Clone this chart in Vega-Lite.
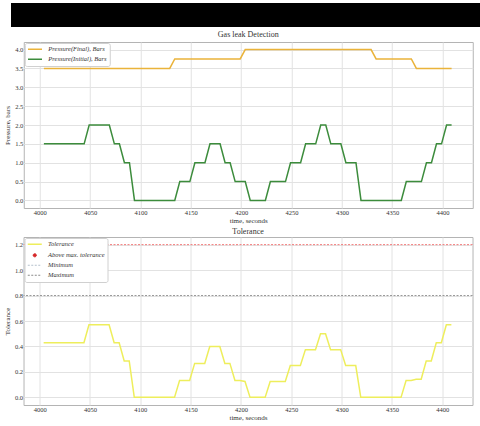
{
  "$schema": "https://vega.github.io/schema/vega-lite/v6.json",
  "description": "Gas leak detection: pressure and tolerance over time",
  "background": "white",
  "padding": {"left": 3, "top": 3, "right": 2, "bottom": 1},
  "spacing": 3,
  "center": true,
  "resolve": {"scale": {"color": "independent"}, "legend": {"color": "independent"}},
  "datasets": {
    "pressure": [
      {"t": 4004, "series": "Pressure(Final), Bars", "value": 3.5},
      {"t": 4129, "series": "Pressure(Final), Bars", "value": 3.5},
      {"t": 4134, "series": "Pressure(Final), Bars", "value": 3.75},
      {"t": 4199, "series": "Pressure(Final), Bars", "value": 3.75},
      {"t": 4204, "series": "Pressure(Final), Bars", "value": 4.0},
      {"t": 4329, "series": "Pressure(Final), Bars", "value": 4.0},
      {"t": 4334, "series": "Pressure(Final), Bars", "value": 3.75},
      {"t": 4369, "series": "Pressure(Final), Bars", "value": 3.75},
      {"t": 4374, "series": "Pressure(Final), Bars", "value": 3.5},
      {"t": 4409, "series": "Pressure(Final), Bars", "value": 3.5},
      {"t": 4004, "series": "Pressure(Initial), Bars", "value": 1.5},
      {"t": 4044, "series": "Pressure(Initial), Bars", "value": 1.5},
      {"t": 4049, "series": "Pressure(Initial), Bars", "value": 2.0},
      {"t": 4069, "series": "Pressure(Initial), Bars", "value": 2.0},
      {"t": 4074, "series": "Pressure(Initial), Bars", "value": 1.5},
      {"t": 4079, "series": "Pressure(Initial), Bars", "value": 1.5},
      {"t": 4084, "series": "Pressure(Initial), Bars", "value": 1.0},
      {"t": 4089, "series": "Pressure(Initial), Bars", "value": 1.0},
      {"t": 4094, "series": "Pressure(Initial), Bars", "value": 0.0},
      {"t": 4134, "series": "Pressure(Initial), Bars", "value": 0.0},
      {"t": 4139, "series": "Pressure(Initial), Bars", "value": 0.5},
      {"t": 4149, "series": "Pressure(Initial), Bars", "value": 0.5},
      {"t": 4154, "series": "Pressure(Initial), Bars", "value": 1.0},
      {"t": 4164, "series": "Pressure(Initial), Bars", "value": 1.0},
      {"t": 4169, "series": "Pressure(Initial), Bars", "value": 1.5},
      {"t": 4179, "series": "Pressure(Initial), Bars", "value": 1.5},
      {"t": 4184, "series": "Pressure(Initial), Bars", "value": 1.0},
      {"t": 4189, "series": "Pressure(Initial), Bars", "value": 1.0},
      {"t": 4194, "series": "Pressure(Initial), Bars", "value": 0.5},
      {"t": 4204, "series": "Pressure(Initial), Bars", "value": 0.5},
      {"t": 4209, "series": "Pressure(Initial), Bars", "value": 0.0},
      {"t": 4224, "series": "Pressure(Initial), Bars", "value": 0.0},
      {"t": 4229, "series": "Pressure(Initial), Bars", "value": 0.5},
      {"t": 4244, "series": "Pressure(Initial), Bars", "value": 0.5},
      {"t": 4249, "series": "Pressure(Initial), Bars", "value": 1.0},
      {"t": 4259, "series": "Pressure(Initial), Bars", "value": 1.0},
      {"t": 4264, "series": "Pressure(Initial), Bars", "value": 1.5},
      {"t": 4274, "series": "Pressure(Initial), Bars", "value": 1.5},
      {"t": 4279, "series": "Pressure(Initial), Bars", "value": 2.0},
      {"t": 4284, "series": "Pressure(Initial), Bars", "value": 2.0},
      {"t": 4289, "series": "Pressure(Initial), Bars", "value": 1.5},
      {"t": 4299, "series": "Pressure(Initial), Bars", "value": 1.5},
      {"t": 4304, "series": "Pressure(Initial), Bars", "value": 1.0},
      {"t": 4314, "series": "Pressure(Initial), Bars", "value": 1.0},
      {"t": 4319, "series": "Pressure(Initial), Bars", "value": 0.0},
      {"t": 4359, "series": "Pressure(Initial), Bars", "value": 0.0},
      {"t": 4364, "series": "Pressure(Initial), Bars", "value": 0.5},
      {"t": 4379, "series": "Pressure(Initial), Bars", "value": 0.5},
      {"t": 4384, "series": "Pressure(Initial), Bars", "value": 1.0},
      {"t": 4389, "series": "Pressure(Initial), Bars", "value": 1.0},
      {"t": 4394, "series": "Pressure(Initial), Bars", "value": 1.5},
      {"t": 4399, "series": "Pressure(Initial), Bars", "value": 1.5},
      {"t": 4404, "series": "Pressure(Initial), Bars", "value": 2.0},
      {"t": 4409, "series": "Pressure(Initial), Bars", "value": 2.0}
    ],
    "tolerance": [
      {"t": 4004, "series": "Tolerance", "value": 0.429},
      {"t": 4044, "series": "Tolerance", "value": 0.429},
      {"t": 4049, "series": "Tolerance", "value": 0.571},
      {"t": 4069, "series": "Tolerance", "value": 0.571},
      {"t": 4074, "series": "Tolerance", "value": 0.429},
      {"t": 4079, "series": "Tolerance", "value": 0.429},
      {"t": 4084, "series": "Tolerance", "value": 0.286},
      {"t": 4089, "series": "Tolerance", "value": 0.286},
      {"t": 4094, "series": "Tolerance", "value": 0.0},
      {"t": 4134, "series": "Tolerance", "value": 0.0},
      {"t": 4139, "series": "Tolerance", "value": 0.133},
      {"t": 4149, "series": "Tolerance", "value": 0.133},
      {"t": 4154, "series": "Tolerance", "value": 0.267},
      {"t": 4164, "series": "Tolerance", "value": 0.267},
      {"t": 4169, "series": "Tolerance", "value": 0.4},
      {"t": 4179, "series": "Tolerance", "value": 0.4},
      {"t": 4184, "series": "Tolerance", "value": 0.267},
      {"t": 4189, "series": "Tolerance", "value": 0.267},
      {"t": 4194, "series": "Tolerance", "value": 0.133},
      {"t": 4199, "series": "Tolerance", "value": 0.133},
      {"t": 4204, "series": "Tolerance", "value": 0.125},
      {"t": 4209, "series": "Tolerance", "value": 0.0},
      {"t": 4224, "series": "Tolerance", "value": 0.0},
      {"t": 4229, "series": "Tolerance", "value": 0.125},
      {"t": 4244, "series": "Tolerance", "value": 0.125},
      {"t": 4249, "series": "Tolerance", "value": 0.25},
      {"t": 4259, "series": "Tolerance", "value": 0.25},
      {"t": 4264, "series": "Tolerance", "value": 0.375},
      {"t": 4274, "series": "Tolerance", "value": 0.375},
      {"t": 4279, "series": "Tolerance", "value": 0.5},
      {"t": 4284, "series": "Tolerance", "value": 0.5},
      {"t": 4289, "series": "Tolerance", "value": 0.375},
      {"t": 4299, "series": "Tolerance", "value": 0.375},
      {"t": 4304, "series": "Tolerance", "value": 0.25},
      {"t": 4314, "series": "Tolerance", "value": 0.25},
      {"t": 4319, "series": "Tolerance", "value": 0.0},
      {"t": 4359, "series": "Tolerance", "value": 0.0},
      {"t": 4364, "series": "Tolerance", "value": 0.133},
      {"t": 4369, "series": "Tolerance", "value": 0.133},
      {"t": 4374, "series": "Tolerance", "value": 0.143},
      {"t": 4379, "series": "Tolerance", "value": 0.143},
      {"t": 4384, "series": "Tolerance", "value": 0.286},
      {"t": 4389, "series": "Tolerance", "value": 0.286},
      {"t": 4394, "series": "Tolerance", "value": 0.429},
      {"t": 4399, "series": "Tolerance", "value": 0.429},
      {"t": 4404, "series": "Tolerance", "value": 0.571},
      {"t": 4409, "series": "Tolerance", "value": 0.571}
    ],
    "limits": [
      {"name": "Maximum", "level": 1.2},
      {"name": "Minimum", "level": 0.8}
    ]
  },
  "vconcat": [
    {
      "width": 475,
      "height": 24,
      "data": {"values": [{}]},
      "view": {"fill": "#000000", "stroke": null},
      "mark": {"type": "text", "text": ""},
      "encoding": {}
    },
    {
      "width": 449,
      "height": 166,
      "title": {"text": "Gas leak Detection", "offset": 3},
      "data": {"name": "pressure"},
      "mark": {"type": "line", "strokeWidth": 1.5},
      "encoding": {
        "x": {
          "field": "t",
          "type": "quantitative",
          "title": "time, seconds",
          "scale": {"domain": [3984, 4430], "nice": false, "zero": false},
          "axis": {"values": [4000, 4050, 4100, 4150, 4200, 4250, 4300, 4350, 4400], "format": "d"}
        },
        "y": {
          "field": "value",
          "type": "quantitative",
          "title": "Pressure, bars",
          "scale": {"domain": [-0.2, 4.2], "nice": false, "zero": false},
          "axis": {"values": [0, 0.5, 1, 1.5, 2, 2.5, 3, 3.5, 4], "format": ".1f", "minExtent": 12, "maxExtent": 12}
        },
        "color": {
          "field": "series",
          "type": "nominal",
          "scale": {
            "domain": ["Pressure(Final), Bars", "Pressure(Initial), Bars"],
            "range": ["#eab33a", "#3c8c3c"]
          },
          "legend": {
            "title": null,
            "symbolType": "stroke",
            "encode": {
              "symbols": {
                "update": {
                  "shape": {"signal": "datum.value ? 'stroke' : 'stroke'"},
                  "size": {"signal": "datum.value ? 196 : 196"},
                  "strokeWidth": {"signal": "datum.value ? 1.5 : 1.5"}
                }
              }
            }
          }
        }
      }
    },
    {
      "width": 449,
      "height": 168,
      "title": {"text": "Tolerance", "offset": 1},
      "layer": [
        {
          "data": {"name": "tolerance"},
          "mark": {"type": "line", "strokeWidth": 1.5},
          "encoding": {
            "x": {
              "field": "t",
              "type": "quantitative",
              "title": "time, seconds",
              "scale": {"domain": [3984, 4430], "nice": false, "zero": false},
              "axis": {"values": [4000, 4050, 4100, 4150, 4200, 4250, 4300, 4350, 4400], "format": "d"}
            },
            "y": {
              "field": "value",
              "type": "quantitative",
              "title": "Tolerance",
              "scale": {"domain": [-0.06, 1.26], "nice": false, "zero": false},
              "axis": {"values": [0, 0.2, 0.4, 0.6, 0.8, 1.0, 1.2], "format": ".1f", "minExtent": 12, "maxExtent": 12}
            },
            "color": {
              "field": "series",
              "type": "nominal",
              "scale": {
                "domain": ["Tolerance", "Above max. tolerance", "Minimum", "Maximum"],
                "range": ["#eeee5c", "#d62728", "#b4c0cc", "#8a8a8a"]
              },
              "legend": {
                "title": null,
                "symbolType": "stroke",
                "encode": {
                  "symbols": {
                    "update": {
                      "shape": {"signal": "datum.value === 'Above max. tolerance' ? 'circle' : 'stroke'"},
                      "fill": {"signal": "datum.value === 'Above max. tolerance' ? '#d62728' : 'transparent'"},
                      "size": {"signal": "datum.value === 'Above max. tolerance' ? 10 : 196"},
                      "strokeDash": {"signal": "datum.value === 'Minimum' || datum.value === 'Maximum' ? [2, 1.5] : [1, 0]"},
                      "strokeWidth": {"signal": "datum.value === 'Tolerance' ? 1.5 : 1"}
                    }
                  }
                }
              }
            }
          }
        },
        {
          "data": {"name": "limits"},
          "transform": [{"filter": "datum.name === 'Maximum'"}],
          "mark": {"type": "rule", "color": "#f06a6a", "strokeWidth": 0.9, "strokeDash": [2, 1.5]},
          "encoding": {
            "y": {
              "field": "level",
              "type": "quantitative",
              "title": "Tolerance",
              "axis": {"values": [0, 0.2, 0.4, 0.6, 0.8, 1.0, 1.2], "format": ".1f", "minExtent": 12, "maxExtent": 12}
            }
          }
        },
        {
          "data": {"name": "limits"},
          "transform": [{"filter": "datum.name === 'Minimum'"}],
          "mark": {"type": "rule", "color": "#8a8a8a", "strokeWidth": 0.9, "strokeDash": [2, 1.5]},
          "encoding": {
            "y": {
              "field": "level",
              "type": "quantitative",
              "title": "Tolerance",
              "axis": {"values": [0, 0.2, 0.4, 0.6, 0.8, 1.0, 1.2], "format": ".1f", "minExtent": 12, "maxExtent": 12}
            }
          }
        }
      ]
    }
  ],
  "config": {
    "font": "Liberation Serif",
    "view": {"stroke": "#b4b4b4"},
    "title": {"font": "Liberation Serif", "fontSize": 8, "fontWeight": "normal", "color": "#333333"},
    "axis": {
      "labelFont": "Liberation Serif",
      "labelFontSize": 6.5,
      "labelColor": "#333333",
      "labelPadding": 1,
      "labelOverlap": false,
      "titleFont": "Liberation Serif",
      "titleFontSize": 7,
      "titleFontWeight": "normal",
      "titleColor": "#333333",
      "titlePadding": 1,
      "gridColor": "#e2e2e2",
      "domain": false,
      "ticks": false,
      "tickSize": 0
    },
    "legend": {
      "orient": "top-left",
      "offset": 1,
      "padding": 3,
      "strokeColor": "#d0d0d0",
      "fillColor": "#ffffff",
      "cornerRadius": 2,
      "labelFont": "Liberation Serif",
      "labelFontStyle": "italic",
      "labelFontSize": 6.5,
      "labelColor": "#333333",
      "symbolSize": 196,
      "symbolStrokeWidth": 1.5,
      "symbolOffset": 4,
      "rowPadding": 3,
      "labelOffset": 10
    }
  }
}
